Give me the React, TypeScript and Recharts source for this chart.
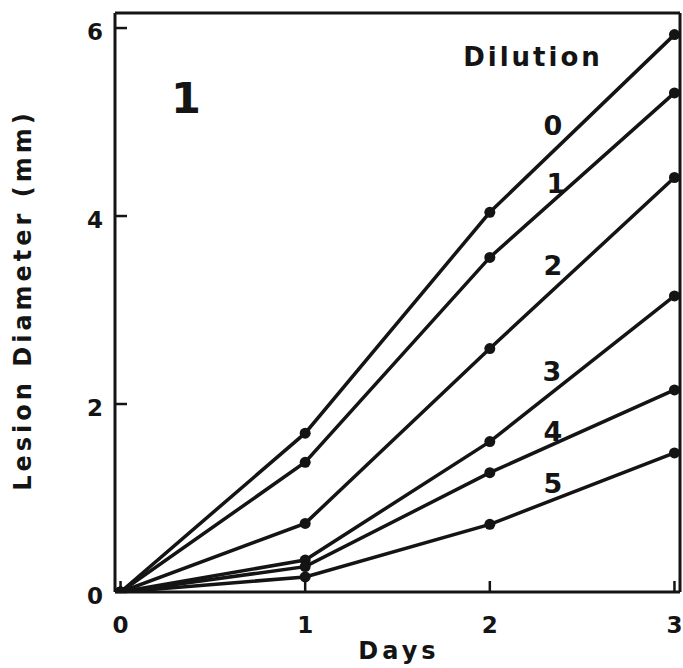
import React from 'react'
import { LineChart, Line, XAxis, YAxis, ReferenceLine } from 'recharts'

// days after inoculation
const days = [0, 1, 2, 3]

// lesion diameter (mm) per dilution
const dilution0 = [0, 1.69, 4.04, 5.93]
const dilution1 = [0, 1.38, 3.56, 5.31]
const dilution2 = [0, 0.73, 2.59, 4.41]
const dilution3 = [0, 0.34, 1.6, 3.15]
const dilution4 = [0, 0.27, 1.27, 2.15]
const dilution5 = [0, 0.16, 0.72, 1.48]

const seriesKeys = ['d0', 'd1', 'd2', 'd3', 'd4', 'd5']
const seriesValues = [dilution0, dilution1, dilution2, dilution3, dilution4, dilution5]

const xTicks = [0, 1, 2, 3]
const yTicks = [0, 2, 4, 6]

const data = days.map((day, i) => {
  const row: Record<string, number> = { day }
  seriesKeys.forEach((k, s) => {
    row[k] = seriesValues[s][i]
  })
  return row
})

const INK = '#141414'
const FONT = '"DejaVu Sans", Verdana, sans-serif'

const XTick = (props: any) => {
  const { x, y, payload } = props
  return (
    <text x={x} y={y} dy={19} textAnchor="middle" fill={INK} fontSize={23} fontWeight={700} fontFamily={FONT}>
      {payload.value}
    </text>
  )
}

const YTick = (props: any) => {
  const { x, y, payload } = props
  return (
    <text x={x} y={y} dy={12} textAnchor="end" fill={INK} fontSize={23} fontWeight={700} fontFamily={FONT}>
      {payload.value}
    </text>
  )
}

function Annotations() {
  const labelStyle = { fill: INK, fontFamily: FONT, fontWeight: 700 }
  return (
    <svg
      width={683}
      height={668}
      style={{ position: 'absolute', left: 0, top: 0, pointerEvents: 'none' }}
    >
      <text x={31} y={300} transform="rotate(-90 31 300)" textAnchor="middle" fontSize={24} letterSpacing={4} {...labelStyle}>
        Lesion Diameter (mm)
      </text>
      <text x={399} y={659} textAnchor="middle" fontSize={24} letterSpacing={4} {...labelStyle}>
        Days
      </text>
      <text x={186} y={113} textAnchor="middle" fontSize={43} {...labelStyle}>1</text>
      <text x={533} y={66} textAnchor="middle" fontSize={26} letterSpacing={3} {...labelStyle}>
        Dilution
      </text>
      <text x={553} y={135} textAnchor="middle" fontSize={27} {...labelStyle}>0</text>
      <text x={556} y={193} textAnchor="middle" fontSize={27} {...labelStyle}>1</text>
      <text x={553} y={275} textAnchor="middle" fontSize={27} {...labelStyle}>2</text>
      <text x={552} y={381} textAnchor="middle" fontSize={27} {...labelStyle}>3</text>
      <text x={553} y={441} textAnchor="middle" fontSize={27} {...labelStyle}>4</text>
      <text x={553} y={493} textAnchor="middle" fontSize={27} {...labelStyle}>5</text>
    </svg>
  )
}

export default function App() {
  return (
    <div style={{ position: 'absolute', left: 0, top: 0, width: 683, height: 668, background: '#fff' }}>
      <LineChart
        width={683}
        height={668}
        data={data}
        margin={{ top: 13, right: 3, bottom: 0, left: 0 }}
      >
        <XAxis
          dataKey="day"
          type="number"
          domain={[-0.03, 3.03]}
          ticks={xTicks}
          height={76}
          stroke={INK}
          strokeWidth={3}
          tickSize={-11}
          tickMargin={33}
          tick={XTick}
          tickLine={{ stroke: INK, strokeWidth: 2.5 }}
          allowDataOverflow
        />
        <YAxis
          type="number"
          domain={[0, 6.16]}
          ticks={yTicks}
          width={115}
          stroke={INK}
          strokeWidth={3}
          tickSize={-12}
          tickMargin={24}
          tick={YTick}
          tickLine={{ stroke: INK, strokeWidth: 2.5 }}
          allowDataOverflow
        />
        <ReferenceLine y={6.16} stroke={INK} strokeWidth={3} ifOverflow="extendDomain" />
        <ReferenceLine x={3.03} stroke={INK} strokeWidth={3} ifOverflow="extendDomain" />
        {seriesKeys.map((k) => (
          <Line
            key={k}
            dataKey={k}
            type="linear"
            stroke={INK}
            strokeWidth={3.5}
            dot={{ r: 5.5, fill: INK, stroke: INK, strokeWidth: 0 }}
            isAnimationActive={false}
          />
        ))}
      </LineChart>
      <Annotations />
    </div>
  )
}
